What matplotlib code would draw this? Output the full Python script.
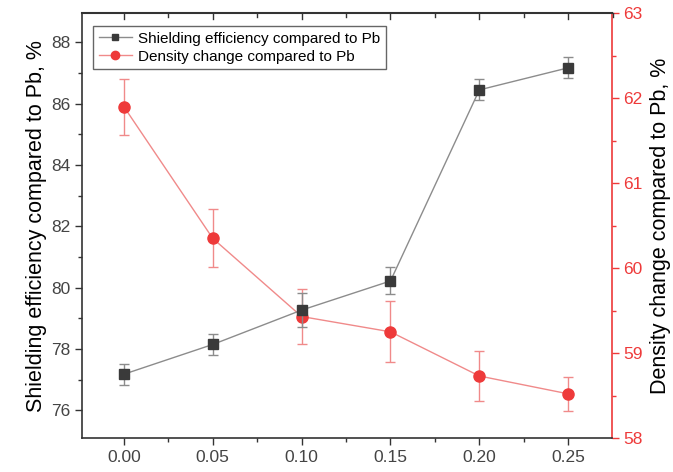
import numpy as np
import matplotlib.pyplot as plt
from matplotlib.lines import Line2D
from matplotlib.ticker import MultipleLocator, AutoMinorLocator

plt.rcParams['font.family'] = ['Liberation Sans', 'DejaVu Sans']

# data
conc = [0.00, 0.05, 0.10, 0.15, 0.20, 0.25]
shield = [77.18, 78.15, 79.27, 80.22, 86.45, 87.17]
shield_err = [0.34, 0.35, 0.55, 0.44, 0.34, 0.34]
density = [61.90, 60.35, 59.43, 59.25, 58.73, 58.52]
density_err = [0.33, 0.34, 0.32, 0.36, 0.30, 0.20]
labels = ['Shielding efficiency compared to Pb',
          'Density change compared to Pb']

red = '#ee3a3a'
red_line = '#f08a8a'
black = '#3a3a3a'
grey_line = '#8c8c8c'
tick_col = '#333333'

fig, ax = plt.subplots(figsize=(6.73, 4.72), dpi=100)
fig.subplots_adjust(left=0.122, right=0.909, top=0.972, bottom=0.072)
ax2 = ax.twinx()

# shielding efficiency (left axis)
ax.errorbar(conc, shield, yerr=shield_err, color=grey_line, lw=1.0,
            marker='s', ms=7, mfc=black, mec=black, ecolor=grey_line,
            elinewidth=1.0, capsize=3.5, capthick=1.0, zorder=3)
# density change (right axis)
ax2.errorbar(conc, density, yerr=density_err, color=red_line, lw=1.0,
             marker='o', ms=8, mfc=red, mec=red, ecolor=red_line,
             elinewidth=1.0, capsize=3.5, capthick=1.0, zorder=3)

ax.set_xlim(-0.0235, 0.2745)
ax.set_ylim(75.1, 88.95)
ax2.set_ylim(58, 63)

ax.xaxis.set_major_locator(MultipleLocator(0.05))
ax.xaxis.set_minor_locator(AutoMinorLocator(2))
ax.yaxis.set_major_locator(MultipleLocator(2))
ax.yaxis.set_minor_locator(AutoMinorLocator(2))
ax2.yaxis.set_major_locator(MultipleLocator(1))
ax2.yaxis.set_minor_locator(AutoMinorLocator(2))
ax.xaxis.set_major_formatter(plt.FormatStrFormatter('%.2f'))

ax.tick_params(axis='x', which='both', direction='out', top=False,
               labelsize=12.5, labelcolor='#444444', color=tick_col)
ax.tick_params(axis='y', which='both', direction='out', right=False,
               labelsize=12.5, labelcolor='#444444', color=tick_col)
ax.tick_params(which='major', length=5, width=1)
ax.tick_params(which='minor', length=3, width=1)
ax2.tick_params(axis='y', which='both', direction='out', colors=red,
                labelsize=12.5)
ax2.tick_params(which='major', length=5, width=1)
ax2.tick_params(which='minor', length=3, width=1)

# top frame line with inward ticks, drawn at figure level
fig.add_artist(Line2D([0, 1], [1, 1], transform=ax.transAxes,
                      color=tick_col, lw=1.5, zorder=20))
x0, x1 = ax.get_xlim()
for t in np.arange(0.0, 0.2751, 0.025):
    major = abs(round(t / 0.05) * 0.05 - t) < 1e-6
    fx = (t - x0) / (x1 - x0)
    ln = 0.013 if major else 0.008
    fig.add_artist(Line2D([fx, fx], [1, 1 - ln], transform=ax.transAxes,
                          color=tick_col, lw=1, zorder=20))

for s in ['left', 'bottom']:
    ax.spines[s].set_color(tick_col)
    ax.spines[s].set_linewidth(1.2)
ax.spines['top'].set_visible(False)
ax.spines['right'].set_visible(False)
ax2.spines['top'].set_visible(False)
ax2.spines['right'].set_color(red)
ax2.spines['right'].set_linewidth(1.2)
ax2.spines['left'].set_visible(False)
ax2.spines['bottom'].set_visible(False)

ax.set_ylabel('Shielding efficiency compared to Pb, %', fontsize=15.5,
              color='black', labelpad=3)
ax2.set_ylabel('Density change compared to Pb, %', fontsize=15.5,
               color='black', labelpad=5)

# legend: line + marker only, no error bar in the handle
handles = [Line2D([], [], color=grey_line, lw=1.0, marker='s', ms=5,
                  mfc=black, mec=black),
           Line2D([], [], color=red_line, lw=1.0, marker='o', ms=6,
                  mfc=red, mec=red)]
leg = ax.legend(handles, labels,
                loc='upper left', bbox_to_anchor=(0.021, 0.969),
                fontsize=11, fancybox=False, framealpha=1,
                edgecolor='#666666', handlelength=2.2, borderpad=0.35,
                labelspacing=0.25, handletextpad=0.4, borderaxespad=0)
leg.get_frame().set_linewidth(1.0)
ax.set_zorder(ax2.get_zorder() + 1)
ax.patch.set_visible(False)

fig.savefig('out.png', dpi=100)
